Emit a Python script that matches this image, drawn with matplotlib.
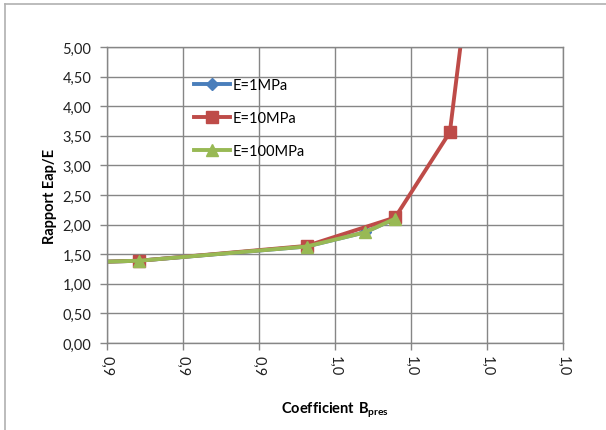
"""Rapport Eap/E en fonction du coefficient Bpres."""

import matplotlib
matplotlib.use("Agg")
import matplotlib.pyplot as plt

plt.rcParams["font.family"] = ["Lato", "DejaVu Sans"]
plt.rcParams["mathtext.fontset"] = "custom"
plt.rcParams["mathtext.rm"] = "Lato"
plt.rcParams["mathtext.bf"] = "Lato:bold"

# data
x_1mpa = [0.898, 0.9086, 0.9526, 0.968, 0.9759]
y_1mpa = [1.37, 1.39, 1.63, 1.87, 2.10]

x_10mpa = [0.898, 0.9086, 0.9526, 0.9759, 0.9903, 0.995]
y_10mpa = [1.37, 1.39, 1.64, 2.12, 3.56, 6.0]

x_100mpa = [0.898, 0.9086, 0.9526, 0.968, 0.9759]
y_100mpa = [1.37, 1.39, 1.63, 1.87, 2.10]

x_ticks = [0.90, 0.92, 0.94, 0.96, 0.98, 1.00, 1.02]
y_ticks = [0.0, 0.5, 1.0, 1.5, 2.0, 2.5, 3.0, 3.5, 4.0, 4.5, 5.0]

GRID = "#868686"
FS = 10.5

fig = plt.figure(figsize=(6.06, 4.31), dpi=100)
ax = fig.add_axes([106.7 / 606, 1 - 344 / 431, (562.7 - 106.7) / 606, (344 - 48) / 431])

# chart area border (top and left visible in the reference)
fig.add_artist(plt.Line2D([5 / 606, 5 / 606], [0, 1 - 5 / 431], transform=fig.transFigure,
                          color="#b0b0b0", lw=1.2))
fig.add_artist(plt.Line2D([5 / 606, 1], [1 - 5 / 431, 1 - 5 / 431], transform=fig.transFigure,
                          color="#b0b0b0", lw=1.2))

ax.plot(x_1mpa, y_1mpa, "-D", color="#4A7EBB", lw=2.8, markersize=6.5, label="E=1MPa")
ax.plot(x_10mpa, y_10mpa, "-s", color="#BE4B48", lw=2.8, markersize=8, label="E=10MPa")
ax.plot(x_100mpa, y_100mpa, "-^", color="#98B954", lw=2.8, markersize=8.5, label="E=100MPa")

ax.set_xlim(0.90, 1.02)
ax.set_ylim(0, 5)
ax.set_xticks(x_ticks)
ax.set_yticks(y_ticks)
ax.set_xticklabels([f"{v:.1f}".replace(".", ",") for v in x_ticks], rotation=-90)
ax.set_yticklabels([f"{v:.2f}".replace(".", ",") for v in y_ticks])
ax.tick_params(axis="both", colors=GRID, labelcolor="#222222", labelsize=FS, length=5, width=1)
ax.tick_params(axis="x", pad=4)
ax.tick_params(axis="y", pad=6)
ax.grid(True, color=GRID, lw=1)
ax.set_axisbelow(True)
for s in ax.spines.values():
    s.set_color(GRID)
    s.set_linewidth(1)

ax.set_ylabel("Rapport Eap/E", fontsize=FS, fontweight="bold", labelpad=4)
fig.text(334.7 / 606, 1 - 410 / 431, r"$\mathbf{Coefficient\ B_{pres}}$",
         ha="center", va="center", fontsize=FS)

ax.legend(loc="center left", bbox_to_anchor=(194 / 606, 1 - 119 / 431),
          bbox_transform=fig.transFigure, frameon=False, fontsize=FS,
          borderpad=0, borderaxespad=0, handlelength=2.5, handletextpad=0.15,
          labelspacing=1.3)

fig.savefig("out.png", dpi=100)
plt.close(fig)
